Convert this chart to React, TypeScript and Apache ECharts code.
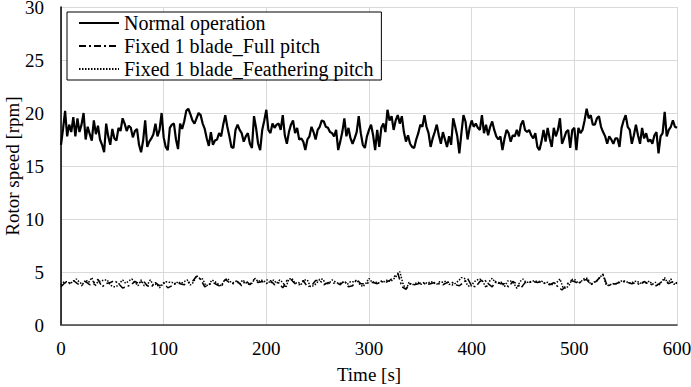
import React, { useEffect, useRef } from "react";
import * as echarts from "echarts";

// Time step (s) for each series
const normalStep = 2;
const fullPitchStep = 4;
const featherStep = 3;

const xTicks = [0, 100, 200, 300, 400, 500, 600];
const yTicks = [0, 5, 10, 15, 20, 25, 30];

const seriesNames = [
  "Normal operation",
  "Fixed 1 blade_Full pitch",
  "Fixed 1 blade_Feathering pitch",
];

// Normal operation rotor speed [rpm], every 2 s from 0 to 600 s
const normalOperation = [
  17.0, 18.5, 20.2, 17.8, 18.9, 18.2, 19.6, 17.8, 19.5, 18.2,
  18.9, 20.0, 17.5, 18.7, 18.0, 17.4, 19.3, 18.0, 18.8, 17.5,
  17.0, 16.3, 19.0, 17.8, 17.0, 18.5, 17.6, 17.4, 18.6, 18.3,
  19.5, 19.0, 18.3, 18.8, 18.6, 17.7, 18.3, 18.5, 17.0, 16.3,
  17.4, 19.3, 16.8, 17.3, 17.6, 18.0, 19.0, 17.8, 18.4, 20.0,
  17.7, 16.8, 16.5, 18.6, 18.9, 19.0, 17.5, 16.6, 19.0, 18.5,
  19.2, 20.2, 20.4, 19.9, 19.3, 19.0, 19.5, 20.0, 19.8, 19.0,
  18.5, 17.6, 16.9, 18.2, 17.0, 17.4,
  17.5, 18.1, 17.8, 18.9, 19.8, 18.7, 17.8, 16.8, 16.7, 18.4,
  18.9, 18.4, 18.1, 17.3, 17.8, 18.1, 17.1, 16.7, 19.7, 18.6,
  17.1, 16.5, 18.4, 19.3, 20.3, 18.4, 18.1, 19.0, 18.6, 18.9,
  19.0, 18.4, 19.8, 17.9, 17.1, 18.2, 18.9, 19.3, 18.1, 18.6,
  17.5, 17.6, 17.3, 16.5, 17.5, 17.8, 18.7, 18.2, 17.5, 18.4,
  18.7, 19.3, 19.2, 18.7, 18.6, 18.2, 18.1, 17.8, 18.4, 16.5,
  17.3, 18.2, 19.5, 17.8, 18.6, 17.6, 17.1, 17.6, 18.2, 19.7,
  18.1, 17.0, 16.7, 17.8, 18.4,
  18.9, 17.9, 16.5, 18.4, 16.8, 18.6, 19.0, 18.2, 20.3, 19.3,
  19.7, 18.4, 19.3, 19.8, 19.0, 19.7, 18.2, 17.3, 17.9, 17.1,
  16.8, 16.7, 17.5, 18.1, 18.9, 18.7, 19.8, 18.7, 18.1, 16.8,
  17.6, 18.2, 18.9, 17.9, 17.1, 18.2, 17.5, 16.8, 17.8, 17.0,
  19.5, 18.7, 17.8, 16.2, 18.1, 19.8, 19.2, 17.5, 18.6, 19.3,
  18.7, 19.0, 18.6, 18.4, 19.8, 18.1, 18.9, 17.9, 18.7, 19.2,
  18.4, 17.8, 17.5, 17.8, 16.5, 17.6, 18.4, 18.1, 17.3, 17.9,
  17.8, 18.4, 17.8, 18.9, 19.3,
  18.4, 18.2, 18.4, 17.9, 17.6, 18.1, 16.8, 16.5, 17.3, 18.4,
  17.3, 18.6, 17.6, 16.8, 18.6, 17.8, 18.4, 19.5, 17.1, 17.6,
  18.2, 18.4, 16.7, 18.4, 18.6, 16.5, 18.6, 18.1, 18.4, 19.3,
  20.4, 19.5, 19.8, 18.9, 18.9, 19.5, 19.7, 18.7, 18.2, 17.8,
  17.1, 17.8, 17.5, 17.1, 17.6, 17.6, 16.8, 18.6, 19.3, 19.8,
  18.7, 18.4, 17.1, 17.9, 18.9, 17.9, 17.1, 18.6, 17.6, 18.1,
  17.3, 17.5, 17.1, 17.9, 18.2, 16.2, 17.8, 18.1, 20.1, 17.8,
  18.4, 18.7, 19.3, 18.7, 18.6,
];

// Fixed 1 blade, full pitch [rpm], every 4 s
const fullPitch = [
  3.6, 4.0, 3.9, 4.2, 3.9, 3.7, 4.1, 3.8, 4.0, 4.3,
  3.6, 3.9, 4.0, 4.2, 3.9, 3.5, 3.6, 3.8, 4.1, 3.9,
  4.2, 3.7, 3.6, 4.0, 3.7, 4.0, 3.5, 3.7, 4.0, 3.9,
  3.8, 4.0, 4.1, 4.6, 4.3, 3.6, 3.8, 4.0, 3.8, 3.6,
  4.3, 4.0, 3.9, 4.1, 3.7, 4.2, 3.8, 4.3, 4.0, 4.1,
  3.9, 4.2, 3.8, 4.0, 3.5, 4.2, 4.3, 3.9, 3.8, 4.2,
  3.6, 3.7, 4.2, 4.2, 3.8, 4.0, 3.9, 4.0, 3.8, 4.2,
  3.6, 3.7, 4.3, 3.9, 3.9, 4.0, 4.0, 3.9, 4.1, 4.0,
  4.2, 4.5, 4.9, 3.6, 3.4, 3.9, 3.8, 3.9, 4.0, 3.8,
  3.9, 4.0, 3.9, 3.8, 4.0, 4.1, 3.8, 3.7, 4.0, 4.4,
  3.7, 3.6, 4.1, 4.3, 3.9, 3.6, 4.2, 3.9, 3.9, 3.6,
  4.1, 3.9, 3.5, 4.0, 4.0, 4.1, 4.0, 4.1, 3.9, 3.8,
  4.0, 3.6, 3.3, 3.7, 4.2, 4.1, 3.9, 4.2, 4.3, 3.8,
  4.0, 4.4, 4.8, 3.7, 3.8, 3.9, 4.0, 4.1, 4.0, 3.9,
  4.0, 3.8, 4.1, 3.9, 3.8, 3.7, 4.0, 4.3, 3.9, 4.1,
  3.9,
];

// Fixed 1 blade, feathering pitch [rpm], every 3 s
const featheringPitch = [
  3.77, 4.09, 4.09, 3.93, 4.09, 4.34, 4.03, 3.84, 4.25, 4.03,
  4.47, 3.68, 4.09, 4.15, 4.25, 4.25, 3.77, 3.62, 3.62, 3.93,
  4.25, 3.93, 4.15, 4.34, 4.03, 3.71, 4.25, 3.71, 3.77, 4.25,
  3.77, 3.87, 3.52, 3.84, 4.09, 4.03, 4.03, 3.84, 4.09, 3.93,
  4.09, 4.25, 3.77, 4.03, 4.65, 4.40, 4.34, 3.71, 3.77, 4.25,
  4.09,
  3.87, 3.71, 4.18, 4.40, 4.09, 3.99, 4.15, 3.84, 4.25, 3.99,
  3.84, 3.93, 4.40, 4.09, 4.25, 4.09, 4.25, 3.93, 4.25, 3.93,
  4.25, 4.03, 3.52, 4.34, 4.40, 3.93, 4.03, 3.84, 4.25, 4.25,
  3.62, 3.71, 3.93, 4.31, 4.34, 3.84, 3.93, 4.25, 4.09, 3.93,
  3.93, 4.09, 3.84, 4.09, 4.09, 4.25, 3.84, 3.62, 3.93, 4.40,
  4.03, 4.09, 3.93, 4.15, 4.09, 4.25, 4.09, 4.34, 4.65, 5.03,
  3.93, 3.30, 4.03, 3.77, 3.93, 4.03, 3.84, 4.03, 3.93, 4.09,
  3.99, 3.84, 4.09, 4.03, 4.15, 3.84, 3.77, 3.93, 4.15, 4.47,
  4.40, 3.71, 3.62, 4.03, 4.25, 4.34, 4.09, 3.52, 4.09, 4.40,
  4.03, 3.93, 4.03, 3.62, 4.15, 4.15, 3.93, 3.46, 4.09, 4.34,
  4.03, 4.03, 4.15, 4.15, 4.09, 4.15, 3.93, 4.03, 3.77, 3.87,
  4.03, 4.34, 3.52, 3.46, 3.77, 4.31, 4.25, 3.93, 4.15, 4.40,
  4.40, 3.84, 4.03, 4.15, 4.56, 4.72, 3.77, 3.71, 3.93, 3.84,
  4.03, 4.15, 4.15, 4.03, 3.93, 4.09, 4.15, 3.93, 4.03, 3.93,
  4.15, 3.84, 4.03, 3.71, 4.09, 4.47, 3.93, 4.34, 3.84, 4.03,
];

const toPairs = (vals: number[], step: number) =>
  vals.map((v, i) => [i * step, v]);

const FONT = "Liberation Serif, Tinos, Times New Roman, DejaVu Serif, serif";

export default function App() {
  const ref = useRef<HTMLDivElement>(null);
  useEffect(() => {
    if (!ref.current) return;
    const chart = echarts.init(ref.current, undefined, { renderer: "svg" });
    const xMin = xTicks[0];
    const xMax = xTicks[xTicks.length - 1];
    const xInt = xTicks[1] - xTicks[0];
    const yMin = yTicks[0];
    const yMax = yTicks[yTicks.length - 1];
    const yInt = yTicks[1] - yTicks[0];
    const txt = { fontFamily: FONT, fontSize: 19, color: "#000" };
    chart.setOption({
      animation: false,
      backgroundColor: "#ffffff",
      textStyle: { fontFamily: FONT, color: "#000" },
      grid: {
        left: 61,
        right: 14,
        top: 7,
        bottom: 62,
        containLabel: false,
        outerBoundsMode: "none",
      },
      legend: {
        show: true,
        orient: "vertical",
        left: 67,
        top: 12,
        padding: [1, 8, 1, 11],
        itemGap: 3,
        itemWidth: 40,
        itemHeight: 14,
        borderColor: "#000",
        borderWidth: 1,
        backgroundColor: "#fff",
        itemStyle: { opacity: 0 },
        textStyle: { fontFamily: FONT, fontSize: 20, color: "#000", lineHeight: 20 },
        data: seriesNames,
      },
      xAxis: [
        {
          type: "value",
          min: xMin,
          max: xMax,
          interval: xInt,
          name: "Time [s]",
          nameLocation: "middle",
          nameGap: 40,
          nameMoveOverlap: false,
          nameTextStyle: txt,
          axisLine: { show: true, lineStyle: { color: "#bfbfbf", width: 1 } },
          axisTick: { show: false },
          axisLabel: { ...txt, margin: 14 },
          splitLine: { show: true, lineStyle: { color: "#d9d9d9", width: 1 } },
        },
        {
          type: "value",
          position: "top",
          min: xMin,
          max: xMax,
          interval: xInt,
          axisLine: { show: true, lineStyle: { color: "#404040", width: 1.5 } },
          axisTick: { show: false },
          axisLabel: { show: false },
          splitLine: { show: false },
        },
      ],
      yAxis: [
        {
          type: "value",
          min: yMin,
          max: yMax,
          interval: yInt,
          name: "Rotor speed [rpm]",
          nameLocation: "middle",
          nameGap: 40,
          nameMoveOverlap: false,
          nameTextStyle: { ...txt, lineHeight: 18 },
          axisLine: { show: true, lineStyle: { color: "#bfbfbf", width: 1 } },
          axisTick: { show: false },
          axisLabel: { ...txt, margin: 17, lineHeight: 14 },
          splitLine: { show: true, lineStyle: { color: "#d9d9d9", width: 1 } },
        },
        {
          type: "value",
          position: "right",
          min: yMin,
          max: yMax,
          interval: yInt,
          axisLine: { show: true, lineStyle: { color: "#000", width: 1.5 } },
          axisTick: { show: false },
          axisLabel: { show: false },
          splitLine: { show: false },
        },
      ],
      series: [
        {
          name: seriesNames[0],
          type: "line",
          data: toPairs(normalOperation, normalStep),
          symbol: "none",
          lineStyle: { color: "#000", width: 2.2, type: "solid" },
          itemStyle: { color: "#000" },
          z: 3,
        },
        {
          name: seriesNames[1],
          type: "line",
          data: toPairs(fullPitch, fullPitchStep),
          symbol: "none",
          lineStyle: { color: "#000", width: 1.5, type: [7, 3, 2, 3] },
          itemStyle: { color: "#000" },
          z: 2,
        },
        {
          name: seriesNames[2],
          type: "line",
          data: toPairs(featheringPitch, featherStep),
          symbol: "none",
          lineStyle: { color: "#000", width: 1.5, type: [1.5, 1.5] },
          itemStyle: { color: "#000" },
          z: 2,
        },
      ],
    });
    return () => chart.dispose();
  }, []);
  return (
    <div
      ref={ref}
      style={{ position: "fixed", left: 0, top: 0, width: 691, height: 387, background: "#fff" }}
    />
  );
}
